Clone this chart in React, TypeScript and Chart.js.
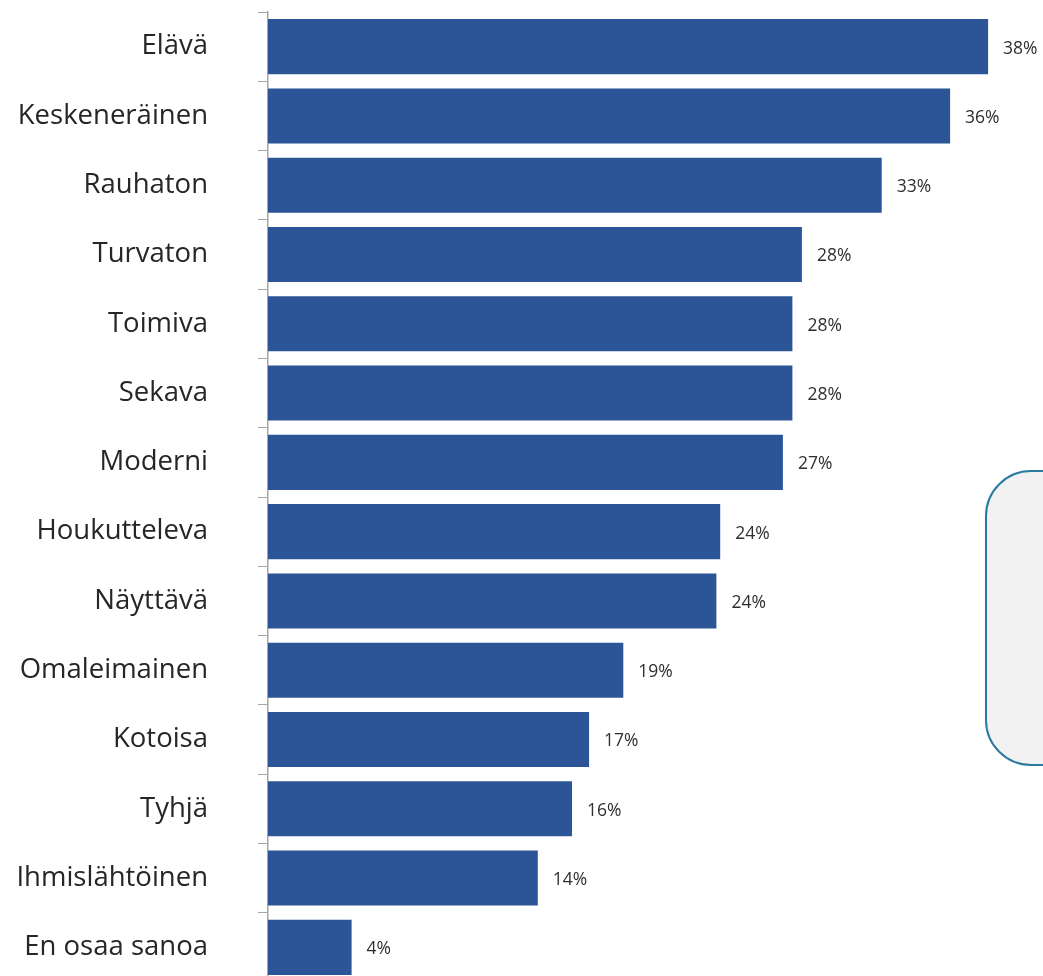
import React, { useEffect, useRef } from "react";
import { Chart, registerables } from "chart.js";

Chart.register(...registerables);

const categories = [
  "Elävä",
  "Keskeneräinen",
  "Rauhaton",
  "Turvaton",
  "Toimiva",
  "Sekava",
  "Moderni",
  "Houkutteleva",
  "Näyttävä",
  "Omaleimainen",
  "Kotoisa",
  "Tyhjä",
  "Ihmislähtöinen",
  "En osaa sanoa",
];

const values = [37.9, 35.9, 32.3, 28.1, 27.6, 27.6, 27.1, 23.8, 23.6, 18.7, 16.9, 16.0, 14.2, 4.4];

const valueLabels = ["38%", "36%", "33%", "28%", "28%", "28%", "27%", "24%", "24%", "19%", "17%", "16%", "14%", "4%"];

const FONT = "'Open Sans', Lato, sans-serif";

const labelPlugin = {
  id: "valueLabels",
  afterDatasetsDraw(chart: any) {
    const { ctx } = chart;
    const meta = chart.getDatasetMeta(0);
    ctx.save();
    ctx.font = `17.5px ${FONT}`;
    ctx.fillStyle = "#2F2F2F";
    ctx.textAlign = "left";
    ctx.textBaseline = "middle";
    meta.data.forEach((bar: any, i: number) => {
      ctx.fillText(valueLabels[i], bar.x + 15, bar.y + 2);
    });
    ctx.restore();
  },
};

export default function App() {
  const ref = useRef<HTMLCanvasElement | null>(null);

  useEffect(() => {
    if (!ref.current) return;
    const chart = new Chart(ref.current, {
      type: "bar",
      data: {
        labels: categories,
        datasets: [
          {
            data: values,
            backgroundColor: "#2B5597",
            borderWidth: 0,
            barPercentage: 0.795,
            categoryPercentage: 1,
          },
        ],
      },
      options: {
        indexAxis: "y",
        animation: false,
        responsive: false,
        maintainAspectRatio: false,
        layout: { padding: { top: 12, bottom: 8, right: 15, left: 0 } },
        plugins: {
          legend: { display: false },
          tooltip: { enabled: false },
        },
        scales: {
          x: {
            display: false,
            min: 0,
            max: 40,
          },
          y: {
            afterFit: (scale: any) => {
              scale.width = 268;
              scale.paddingTop = 0;
              scale.paddingBottom = 0;
            },
            grid: {
              drawOnChartArea: false,
              drawTicks: true,
              tickLength: 10,
              color: "#A6A6A6",
              offset: true,
            },
            border: { display: true, color: "#A6A6A6", width: 1.5 },
            ticks: {
              color: "#262626",
              padding: 50,
              font: { family: FONT, size: 27.5 },
            },
          },
        },
      },
      plugins: [labelPlugin],
    });
    return () => chart.destroy();
  }, []);

  return (
    <div
      style={{
        position: "fixed",
        left: 0,
        top: 0,
        width: 1043,
        height: 976,
        overflow: "hidden",
        background: "#ffffff",
      }}
    >
      <canvas ref={ref} width={1043} height={990} style={{ display: "block" }} />
      <div
        style={{
          position: "absolute",
          left: 985,
          top: 470,
          width: 120,
          height: 292,
          background: "#F2F2F2",
          border: "2.5px solid #2A7BA0",
          borderRadius: 46,
        }}
      />
    </div>
  );
}
